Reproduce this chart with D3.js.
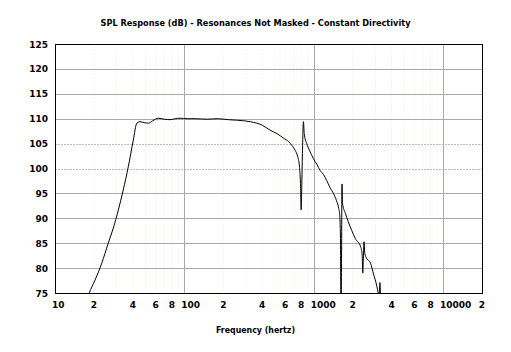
<!DOCTYPE html>
<html>
<head>
    <meta charset="utf-8">
    <script src="https://d3js.org/d3.v7.min.js"></script>
    <style>
        body { margin: 0; background: #fff; }
        text { font-family: "DejaVu Sans", sans-serif; font-weight: bold; fill: #000; }
    </style>
</head>
<body>
<script>
// frequency (Hz) and SPL (dB)
const freqs = [15, 17, 18.4, 20.4, 23, 25.8, 28.2, 30.9, 33.7, 36.9, 40.3, 42.9, 45.4, 49, 52.7, 57, 63, 70, 77.5, 85, 92.6,
    105, 121, 150, 180, 220, 254, 324, 400, 460, 520, 584, 640, 679, 720, 750, 775, 790, 800, 808, 818, 833, 845, 882,
    930, 993, 1060, 1121, 1190, 1260, 1335, 1420, 1502, 1560, 1590, 1610, 1625, 1640, 1655, 1670, 1757, 1850, 1965,
    2100, 2306, 2370, 2395, 2420, 2450, 2480, 2560, 2750, 2900, 3063, 3155, 3200, 3255, 3300, 3500, 4000];
const spl = [68, 72.3, 75, 77.6, 81, 85, 88, 91.7, 95.7, 100.4, 105.7, 109.1, 109.4, 109.2, 109.1, 109.6, 110.1, 109.9, 109.8, 110, 110.1,
    110, 110, 109.9, 110, 109.8, 109.7, 109.4, 108.7, 107.7, 107, 106.1, 105.4, 104.6, 103.6, 102.5, 100.5, 97, 91.7, 96, 103, 109.4, 107, 105,
    103.6, 102, 100.8, 99.6, 98.8, 97.6, 96.2, 95, 93.5, 92, 90.6, 86, 70, 80, 96.9, 93, 91, 89.3, 87.6,
    85.9, 84.3, 82.6, 79, 82, 85.3, 83, 82, 81, 78.8, 76.6, 75, 74.5, 77.1, 72, 68, 60];

const yTicks = [75, 80, 85, 90, 95, 100, 105, 110, 115, 120, 125];
const dottedY = [100, 105];
const decadeTicks = [10, 100, 1000, 10000];
const minorTicks = [20, 40, 60, 80, 200, 400, 600, 800, 2000, 4000, 6000, 8000, 20000];
const minorLabels = ["2", "4", "6", "8", "2", "4", "6", "8", "2", "4", "6", "8", "2"];

const width = 511, height = 352;
const margin = {top: 44, right: 29, bottom: 59, left: 55};
const chartWidth = width - margin.left - margin.right;
const chartHeight = height - margin.top - margin.bottom;

const svg = d3.select("body").append("svg")
    .attr("width", width)
    .attr("height", height);

const chartArea = svg.append("g")
    .attr("transform", "translate(" + margin.left + "," + margin.top + ")");

const xScale = d3.scaleLog().domain([10, 20000]).range([0, chartWidth]);
const yScale = d3.scaleLinear().domain([75, 125]).range([chartHeight, 0]);

// faint minor vertical lines (every 1..9 of each decade)
const allMinor = [];
decadeTicks.forEach(d => { for (let k = 2; k <= 9; k++) if (d * k < 20000) allMinor.push(d * k); });
chartArea.selectAll(".minor").data(allMinor).enter().append("line")
    .attr("x1", d => xScale(d)).attr("x2", d => xScale(d))
    .attr("y1", 0).attr("y2", chartHeight)
    .attr("stroke", "#efedde").attr("stroke-dasharray", "1,2");

// horizontal grid
chartArea.selectAll(".hgrid").data(yTicks.slice(1, -1)).enter().append("line")
    .attr("x1", 0).attr("x2", chartWidth)
    .attr("y1", d => Math.round(yScale(d)) + 0.5).attr("y2", d => Math.round(yScale(d)) + 0.5)
    .attr("stroke", d => dottedY.includes(d) ? "#c4b8c8" : "#a8a8a8")
    .attr("stroke-dasharray", d => dottedY.includes(d) ? "2,1" : null);

// decade verticals
chartArea.selectAll(".vgrid").data(decadeTicks.slice(1)).enter().append("line")
    .attr("x1", d => Math.round(xScale(d)) + 0.5).attr("x2", d => Math.round(xScale(d)) + 0.5)
    .attr("y1", 0).attr("y2", chartHeight)
    .attr("stroke", "#a8a8a8");

// curve, clipped to the plot
chartArea.append("clipPath").attr("id", "clip")
    .append("rect").attr("width", chartWidth).attr("height", chartHeight);

const line = d3.line()
    .x((d, i) => xScale(freqs[i]))
    .y(d => yScale(d))
    .curve(d3.curveMonotoneX);

chartArea.append("path")
    .datum(spl)
    .attr("clip-path", "url(#clip)")
    .attr("fill", "none")
    .attr("stroke", "#000")
    .attr("stroke-width", 1)
    .attr("d", line);

// frame
chartArea.append("rect")
    .attr("x", 0.5).attr("y", 0.5)
    .attr("width", chartWidth).attr("height", chartHeight)
    .attr("fill", "none").attr("stroke", "#000");

// y labels
chartArea.selectAll(".ylab").data(yTicks).enter().append("text")
    .attr("x", -7).attr("y", d => yScale(d) + 3.5)
    .attr("text-anchor", "end")
    .style("font-size", "9px")
    .text(d => d);

// x labels
chartArea.selectAll(".xdec").data(decadeTicks).enter().append("text")
    .attr("x", d => xScale(d) - 3).attr("y", chartHeight + 15)
    .attr("text-anchor", "start")
    .style("font-size", "9px")
    .text(d => d);

chartArea.selectAll(".xmin").data(minorTicks).enter().append("text")
    .attr("x", d => xScale(d)).attr("y", chartHeight + 15)
    .attr("text-anchor", "middle")
    .style("font-size", "9px")
    .text((d, i) => minorLabels[i]);

// titles
svg.append("text")
    .attr("x", 255.5).attr("y", 26)
    .attr("text-anchor", "middle")
    .attr("textLength", 310).attr("lengthAdjust", "spacingAndGlyphs")
    .style("font-size", "9px")
    .text("SPL Response (dB) - Resonances Not Masked - Constant Directivity");

svg.append("text")
    .attr("x", 255.5).attr("y", 333)
    .attr("text-anchor", "middle")
    .attr("textLength", 79).attr("lengthAdjust", "spacingAndGlyphs")
    .style("font-size", "9px")
    .text("Frequency (hertz)");
</script>
</body>
</html>
